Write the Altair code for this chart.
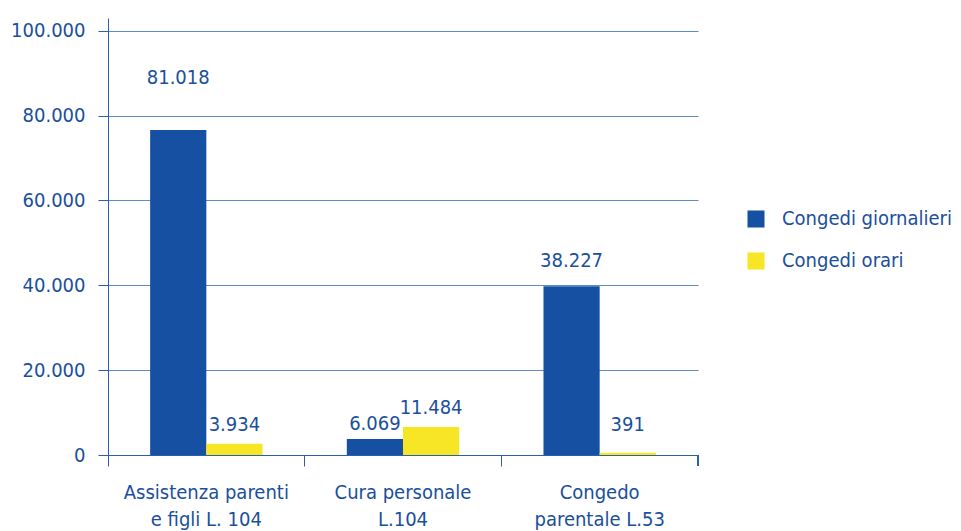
import altair as alt
import pandas as pd

categories = ["Assistenza parenti\ne figli L. 104", "Cura personale\nL.104", "Congedo\nparentale L.53"]
series = ["Congedi giornalieri", "Congedi orari"]
# bar heights as drawn in the picture
giornalieri_bar = [76600, 3770, 39800]
orari_bar = [2660, 6600, 540]
# printed labels
giornalieri_lbl = ["81.018", "6.069", "38.227"]
orari_lbl = ["3.934", "11.484", "391"]
# label lift above bar top, pixels
giornalieri_dy = [52, 15, 25]
orari_dy = [19, 19, 28]

rows = []
for i, c in enumerate(categories):
    rows.append({"cat": c, "serie": series[0], "v": giornalieri_bar[i], "lbl": giornalieri_lbl[i], "dy": giornalieri_dy[i]})
    rows.append({"cat": c, "serie": series[1], "v": orari_bar[i], "lbl": orari_lbl[i], "dy": orari_dy[i]})
df = pd.DataFrame(rows)

FONT = "DejaVu Sans Condensed, DejaVu Sans, sans-serif"
FS = 20
TXT = "#1a4f9c"
BLUE = "#1550A3"
YEL = "#F6E626"
H = 437
YMAX = 103000

x = alt.X("cat:N", sort=categories, title=None,
          scale=alt.Scale(paddingInner=0, paddingOuter=0),
          axis=alt.Axis(labelAngle=0, labelExpr="split(datum.label, '\\n')", bandPosition=0,
                        tickSize=11, tickColor="#2b5fa8", domainColor="#2b5fa8",
                        labelFontSize=FS, labelFont=FONT, labelColor=TXT, labelPadding=16,
                        labelLineHeight=27, labelBaseline="top", labelLimit=0))
xo = alt.XOffset("serie:N", sort=series, scale=alt.Scale(paddingOuter=0.75, paddingInner=0))
yscale = alt.Scale(domain=[0, YMAX], nice=False)
y = alt.Y("v:Q", title=None, scale=yscale,
          axis=alt.Axis(values=[0, 20000, 40000, 60000, 80000, 100000],
                        labelExpr="replace(format(datum.value, ','), ',', '.')",
                        tickSize=10, tickColor="#2b5fa8", domainColor="#2b5fa8",
                        gridColor="#5f8bc6", labelFontSize=FS, labelFont=FONT,
                        labelColor=TXT, labelPadding=13))

bars = alt.Chart(df).mark_bar().encode(
    x=x, xOffset=xo, y=y,
    color=alt.Color("serie:N", sort=series, title=None,
                    scale=alt.Scale(domain=series, range=[BLUE, YEL]),
                    legend=alt.Legend(orient="none", legendX=638, legendY=191,
                                      symbolType="square", symbolSize=290,
                                      symbolStrokeWidth=0, labelFontSize=FS,
                                      labelFont=FONT, labelColor=TXT, labelOffset=16,
                                      rowPadding=22, labelLimit=0)),
)

labels = alt.Chart(df).transform_calculate(
    ly=f"datum.v + datum.dy * {YMAX} / {H}"
).mark_text(fontSize=FS, font=FONT, color=TXT, baseline="middle").encode(
    x=alt.X("cat:N", sort=categories), xOffset=xo,
    y=alt.Y("ly:Q", scale=yscale),
    text="lbl:N",
)

endtick = alt.Chart(df).mark_rule(color="#2b5fa8").encode(
    x=alt.value(590), y=alt.value(H), y2=alt.value(H + 11))

chart = alt.layer(bars, labels, endtick).properties(
    width=590, height=H,
    autosize=alt.AutoSizeParams(type="none"),
    padding={"left": 100, "top": 10, "right": 255, "bottom": 76},
).configure_view(stroke=None).configure_axis(gridWidth=1)

chart.save("out.html", embed_options={"renderer": "svg", "actions": False})
